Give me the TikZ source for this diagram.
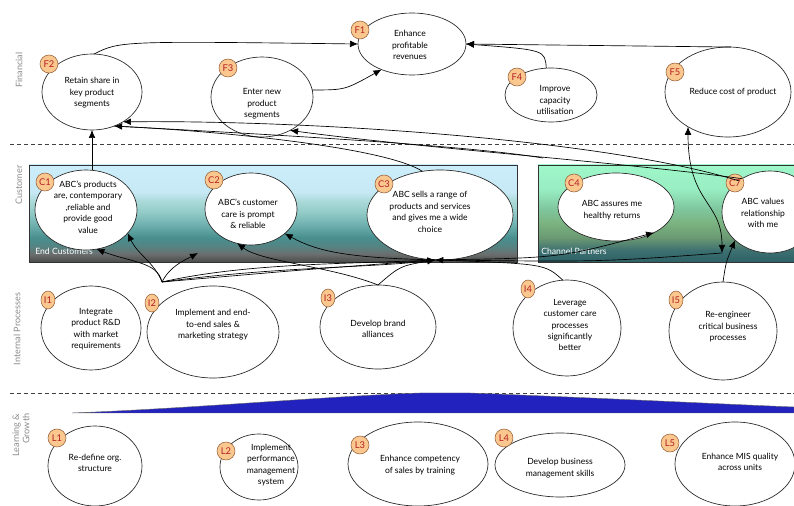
\documentclass[tikz,border=0pt]{standalone}
\usepackage{fontspec}
\setmainfont{Lato}
\usetikzlibrary{shapes.geometric,arrows.meta}
\definecolor{badgefill}{RGB}{250,200,142}
\definecolor{badgeline}{RGB}{150,95,55}
\definecolor{badgetext}{RGB}{180,30,35}
\definecolor{seclabel}{RGB}{140,140,140}
\definecolor{wedge}{RGB}{34,34,190}
\pgfdeclareverticalshading{endcust}{100bp}{rgb(0bp)=(0.29,0.29,0.29); rgb(25bp)=(0.29,0.29,0.29); rgb(29bp)=(0.42,0.43,0.43); rgb(33.5bp)=(0.33,0.52,0.52); rgb(37.5bp)=(0.28,0.56,0.56); rgb(44bp)=(0.43,0.69,0.68); rgb(51bp)=(0.58,0.80,0.79); rgb(56bp)=(0.66,0.85,0.84); rgb(61bp)=(0.78,0.91,0.96); rgb(75bp)=(0.80,0.93,0.98); rgb(100bp)=(0.80,0.93,0.98)}
\pgfdeclareverticalshading{chanpart}{100bp}{rgb(0bp)=(0.18,0.38,0.40); rgb(25bp)=(0.18,0.38,0.40); rgb(31bp)=(0.24,0.44,0.44); rgb(37.5bp)=(0.42,0.60,0.45); rgb(45bp)=(0.48,0.70,0.50); rgb(52.5bp)=(0.50,0.78,0.62); rgb(62.5bp)=(0.60,0.93,0.76); rgb(75bp)=(0.62,0.97,0.79); rgb(100bp)=(0.62,0.97,0.79)}
\tikzset{
  ell/.style args={#1/#2}{ellipse, draw=black!85, line width=0.5pt, fill=white, inner sep=0pt, outer sep=0pt, minimum width=#1*1.5pt, minimum height=#2*1.5pt},
  txt/.style={font=\fontsize{6.4}{8.6}\selectfont, align=center, inner sep=0pt},
  badge/.style={circle, draw=badgeline, line width=0.4pt, fill=badgefill, minimum size=13.5pt, inner sep=0pt, font=\fontsize{7}{7}\selectfont, text=badgetext},
  ibadge/.style={ellipse, draw=badgeline, line width=0.4pt, fill=badgefill, minimum width=10.5pt, minimum height=13.5pt, inner sep=0pt, font=\fontsize{7}{7}\selectfont, text=badgetext},
  sec/.style={font=\fontsize{6.8}{7.6}\selectfont, text=seclabel, rotate=90, align=right, inner sep=0pt},
  arr/.style={-{Latex[length=6pt,width=5pt]}, line width=0.5pt},
  darr/.style={{Latex[length=6pt,width=5pt]}-{Latex[length=6pt,width=5pt]}, line width=0.5pt},
  ln/.style={line width=0.5pt},
  sep/.style={dashed, dash pattern=on 3pt off 2.2pt, line width=0.5pt, draw=black!75},
  panel/.style={draw=black!80, line width=0.4pt, inner sep=0pt, outer sep=0pt, anchor=north west},
  plabel/.style={font=\fontsize{6.5}{7}\selectfont, text=white, inner sep=0pt, anchor=base west}
}
\begin{document}
\begin{tikzpicture}[x=0.75pt,y=-0.75pt]
\useasboundingbox (0,0) rectangle (794,506);
\clip (0,0) rectangle (794,506);
\fill[white] (0,0) rectangle (794,506);

% section labels
\node[sec] (sF) at (19,70) {Financial};
\node[sec] (sC) at (19,185) {Customer};
\node[sec] (sI) at (17,329) {Internal Processes};
\node[sec] (sL) at (21,435) {Learning \&\\Growth};

% separators
\draw[sep] (10,144) -- (794,144);
\draw[sep] (10,393) -- (794,393);

% panels
\node[panel, shading=endcust, minimum width=366pt, minimum height=72.75pt] (endc) at (29,165) {};
\node[panel, shading=chanpart, minimum width=200pt, minimum height=72.75pt] (chan) at (538,165) {};
\node[plabel] (endcl) at (35,255) {End Customers};
\node[plabel] (chanl) at (541,255) {Channel Partners};

% blue wedge
\fill[wedge, draw=black!60, line width=0.3pt] (72,413) .. controls (200,408) and (330,396) .. (420,393) -- (470,393) .. controls (600,398) and (720,404) .. (794,407) -- (794,413) -- cycle;

% financial
\node[ell=54/31] (F1) at (412,44) {};
\node[ell=50/38] (F2) at (92,92) {};
\node[ell=51/40] (F3) at (262,97) {};
\node[ell=46/27] (F4) at (551,95) {};
\node[ell=63/45] (F5) at (728,92) {};
% customer
\node[ell=51/40] (C1) at (86,210) {};
\node[ell=46/36] (C2) at (251,209) {};
\node[ell=73/45] (C3) at (440,215) {};
\node[ell=58/34] (C4) at (616,207) {};
\node[ell=48/41] (C7) at (770,212) {};
% internal
\node[ell=50/42] (I1) at (91,328) {};
\node[ell=66/46] (I2) at (213,332) {};
\node[ell=58/42] (I3) at (378,327) {};
\node[ell=54/48] (I4) at (567,328) {};
\node[ell=54/49] (I5) at (723,331) {};
% learning
\node[ell=47/40] (L1) at (95,466) {};
\node[ell=39/33] (L2) at (259,467) {};
\node[ell=70/42] (L3) at (418,464) {};
\node[ell=65/32] (L4) at (560,465) {};
\node[ell=60/42] (L5) at (735,464) {};

% texts
\node[txt] (tF1) at (410,45) {Enhance\\profitable\\revenues};
\node[txt] (tF2) at (92,93) {Retain share in\\key product\\segments};
\node[txt] (tF3) at (262,104) {Enter new\\product\\segments};
\node[txt] (tF4) at (555,100) {Improve\\capacity\\utilisation};
\node[txt] (tF5) at (733,92) {Reduce cost of product};
\node[txt] (tC1) at (88,207) {ABC's products\\are, contemporary\\,reliable and\\provide good\\value};
\node[txt] (tC2) at (248,214) {ABC's customer\\care is prompt\\\& reliable};
\node[txt] (tC3) at (430,212) {ABC sells a range of\\products and services\\and gives me a wide\\choice};
\node[txt] (tC4) at (612,210) {ABC assures me\\healthy returns};
\node[txt] (tC7) at (763,213) {ABC values\\relationship\\with me};
\node[txt] (tI1) at (96,329) {Integrate\\product R\&D\\with market\\requirements};
\node[txt] (tI2) at (213,325) {Implement and end-\\to-end sales \&\\marketing strategy};
\node[txt] (tI3) at (378,329) {Develop brand\\alliances};
\node[txt] (tI4) at (570,325) {Leverage\\customer care\\processes\\significantly\\better};
\node[txt] (tI5) at (728,327) {Re-engineer\\critical business\\processes};
\node[txt] (tL1) at (95,463) {Re-define org.\\structure};
\node[txt] (tL2) at (271,465) {Implement\\performance\\management\\system};
\node[txt] (tL3) at (420,465) {Enhance competency\\of sales by training};
\node[txt] (tL4) at (560,468) {Develop business\\management skills};
\node[txt] (tL5) at (740,462) {Enhance MIS quality\\across units};

% badges
\node[badge] (bF1) at (360,30) {F1};
\node[badge] (bF2) at (49,64) {F2};
\node[badge] (bF3) at (228,68) {F3};
\node[badge] (bF4) at (517,77) {F4};
\node[badge] (bF5) at (675,72) {F5};
\node[badge] (bC1) at (45,182) {C1};
\node[badge] (bC2) at (214,180) {C2};
\node[badge] (bC3) at (384,184) {C3};
\node[badge] (bC4) at (574,183) {C4};
\node[badge] (bC7) at (735,183) {C7};
\node[ibadge] (bI1) at (48,300) {I1};
\node[ibadge] (bI2) at (152,303) {I2};
\node[ibadge] (bI3) at (328,298) {I3};
\node[ibadge] (bI4) at (528,289) {I4};
\node[ibadge] (bI5) at (676,300) {I5};
\node[badge] (bL1) at (57,438) {L1};
\node[badge] (bL2) at (226,451) {L2};
\node[badge] (bL3) at (360,445) {L3};
\node[badge] (bL4) at (504,438) {L4};
\node[badge] (bL5) at (670,443) {L5};

% connectors: financial
\draw[arr] (F2.87) .. controls (120,41) .. (F1.180);
\draw[arr] (F3.8) .. controls (345,90) .. (F1.-140);
\draw[arr] (F4.100) .. controls (545,50) .. (F1.east);
\draw[arr] (F5.86) -- (F1.east);

% customer -> financial
\coordinate (chanTop) at (543,158);
\draw[arr] (C1.north -| F2.south) -- (F2.south);
\draw[arr] (C7.135) .. controls (600,138) and (300,120) .. (F2.-44);
\draw[arr] (C3.112) .. controls (390,150) and (250,133) .. (F2.-57);
\draw[ln] (chanTop) .. controls (470,146) and (300,136) .. (F2.-57);
\draw[arr] (C7.130) .. controls (620,162) and (420,148) .. (F3.-50);

% internal -> financial / customer
\coordinate (hubA) at (162,282);
\coordinate (ecA) at (198,253);
\coordinate (cpA) at (722,253);
\draw[darr] (F5.-139) .. controls (688,205) and (722,200) .. (cpA);
\draw[ln] (C3.-96) .. controls (600,262) .. (cpA);
\draw[arr] (I5.north) .. controls (726,262) .. (C7.-141);
\draw[arr] (I3.north) .. controls (400,266) .. (C3.-96);
\draw[arr] (I4.95) .. controls (545,264) .. (C3.-96);
\draw[arr] (hubA) .. controls (300,270) .. (C3.-96);
\draw[ln] (hubA) .. controls (280,266) and (380,268) .. (C3.-96);
\draw[ln] (hubA) .. controls (250,262) and (360,264) .. (C3.-96);
\draw[arr] (hubA) .. controls (158,262) and (130,262) .. (C1.-75);
\draw[arr] (hubA) .. controls (154,262) and (138,255) .. (C1.-29);
\draw[arr] (hubA) .. controls (170,266) and (185,260) .. (ecA);
\draw[arr] (I3.north) .. controls (330,266) and (262,262) .. (C2.-112);
\draw[arr] (C3.-96) .. controls (350,258) and (318,252) .. (C2.-36);
\draw[arr] (C3.-96) .. controls (560,258) .. (C4.-34);
\end{tikzpicture}
\end{document}
